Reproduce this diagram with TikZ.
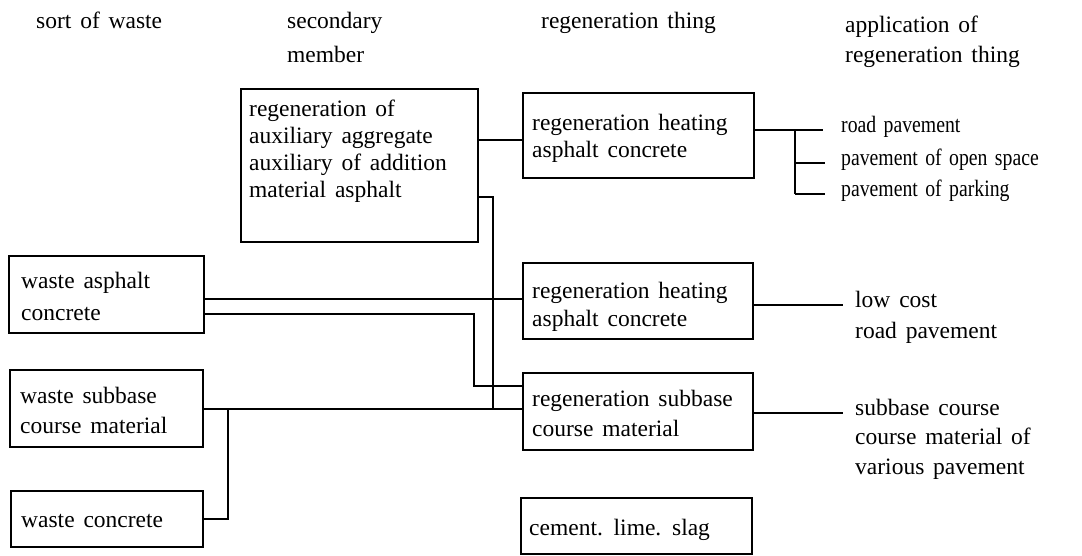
\documentclass[tikz,border=0pt]{standalone}
\usepackage{fontspec}
\usepackage{graphicx}
\setmainfont{Liberation Serif}[WordSpace=1.5]
\newcommand\myfs[1]{\fontsize{23.5}{#1}\selectfont}
\newcommand\narrow[1]{\scalebox{0.84}[1]{#1}}
\begin{document}
\begin{tikzpicture}[x=1pt,y=-1pt,
  box/.style={draw, line width=1.8pt, inner sep=0pt},
  txt/.style={inner sep=0pt, anchor=north west, align=left},
  rt/.style={inner ysep=0pt, anchor=mid west, font=\myfs{28}},
  conn/.style={line width=1.8pt}]
\useasboundingbox (0,0) rectangle (1082,556);
% headers
\node[txt, font=\myfs{28}] (h1) at (36,8.7) {\strut sort of waste};
\node[txt, font=\myfs{34}] (h2) at (287,4.5) {\strut secondary\\member};
\node[txt, font=\myfs{28}] (h3) at (541,8.7) {\strut regeneration thing};
\node[txt, font=\myfs{30}] (h4) at (845,11.3) {\strut application of\\regeneration thing};
% boxes
\node[box, minimum width=237pt, minimum height=153pt] (aux) at (359.5,165.5) {};
\node[box, minimum width=231pt, minimum height=85pt] (r1) at (638.5,135.5) {};
\node[box, minimum width=230pt, minimum height=76pt] (r2) at (638,301) {};
\node[box, minimum width=230pt, minimum height=77pt] (r3) at (638,411.5) {};
\node[box, minimum width=231pt, minimum height=56pt] (r4) at (636.5,526) {};
\node[box, minimum width=195pt, minimum height=77pt] (wa) at (106.5,294.5) {};
\node[box, minimum width=193pt, minimum height=77pt] (ws) at (106.5,408.5) {};
\node[box, minimum width=192pt, minimum height=56pt] (wc) at (107,519) {};
% box texts
\node[txt, font=\myfs{27}] (auxt) at (249,97.5) {\strut regeneration of\\auxiliary aggregate\\auxiliary of addition\\material asphalt};
\node[txt, font=\myfs{27}] (r1t) at (532,111) {\strut regeneration heating\\asphalt concrete};
\node[txt, font=\myfs{28}] (r2t) at (532,278.5) {\strut regeneration heating\\asphalt concrete};
\node[txt, font=\myfs{30}] (r3t) at (532,385) {\strut regeneration subbase\\course material};
\node[txt, font=\myfs{28}] (r4t) at (529,515.7) {\strut cement. lime. slag};
\node[txt, font=\myfs{32}] (wat) at (21,265.5) {\strut waste asphalt\\concrete};
\node[txt, font=\myfs{30}] (wst) at (20,382) {\strut waste subbase\\course material};
\node[txt, font=\myfs{28}] (wct) at (21,508) {\strut waste concrete};
% right texts
\node[rt, inner xsep=18pt] (t1) at (823,130) {\narrow{road pavement}};
\node[rt, inner xsep=16pt] (t2) at (825,163) {\narrow{pavement of open space}};
\node[rt, inner xsep=16pt] (t3) at (825,194) {\narrow{pavement of parking}};
\node[rt, inner xsep=12pt] (u1) at (843,305) {low cost};
\node[rt, inner xsep=12pt] (u2) at (843,336) {road pavement};
\node[rt, inner xsep=12pt] (v1) at (843,413) {subbase course};
\node[rt, inner xsep=12pt] (v2) at (843,442) {course material of};
\node[rt, inner xsep=12pt] (v3) at (843,472) {various pavement};
% junction coordinates
\coordinate (jA) at (493,409);
\coordinate (jB) at (474,386);
\coordinate (jC) at (228,409);
\coordinate (bx) at (795,0);
% connectors
\draw[conn] (aux.east |- 0,140) -- (r1.west |- 0,140);
\draw[conn] (aux.east |- 0,197) -| (jA);
\draw[conn] (wa.east |- 0,299) -- (r2.west |- 0,299);
\draw[conn] (wa.east |- 0,314) -| (jB) -- (r3.west |- jB);
\draw[conn] (ws.east |- jA) -- (r3.west |- jA);
\draw[conn] (jC) |- (wc.east);
\draw[conn] (r1.east |- t1.mid west) -- (t1.mid west);
\draw[conn] (bx |- t1.mid west) -- (bx |- t3.mid west);
\draw[conn] (bx |- t2.mid west) -- (t2.mid west);
\draw[conn] (bx |- t3.mid west) -- (t3.mid west);
\draw[conn] (r2.east |- u1.mid west) -- (u1.mid west);
\draw[conn] (r3.east |- v1.mid west) -- (v1.mid west);
\end{tikzpicture}
\end{document}
